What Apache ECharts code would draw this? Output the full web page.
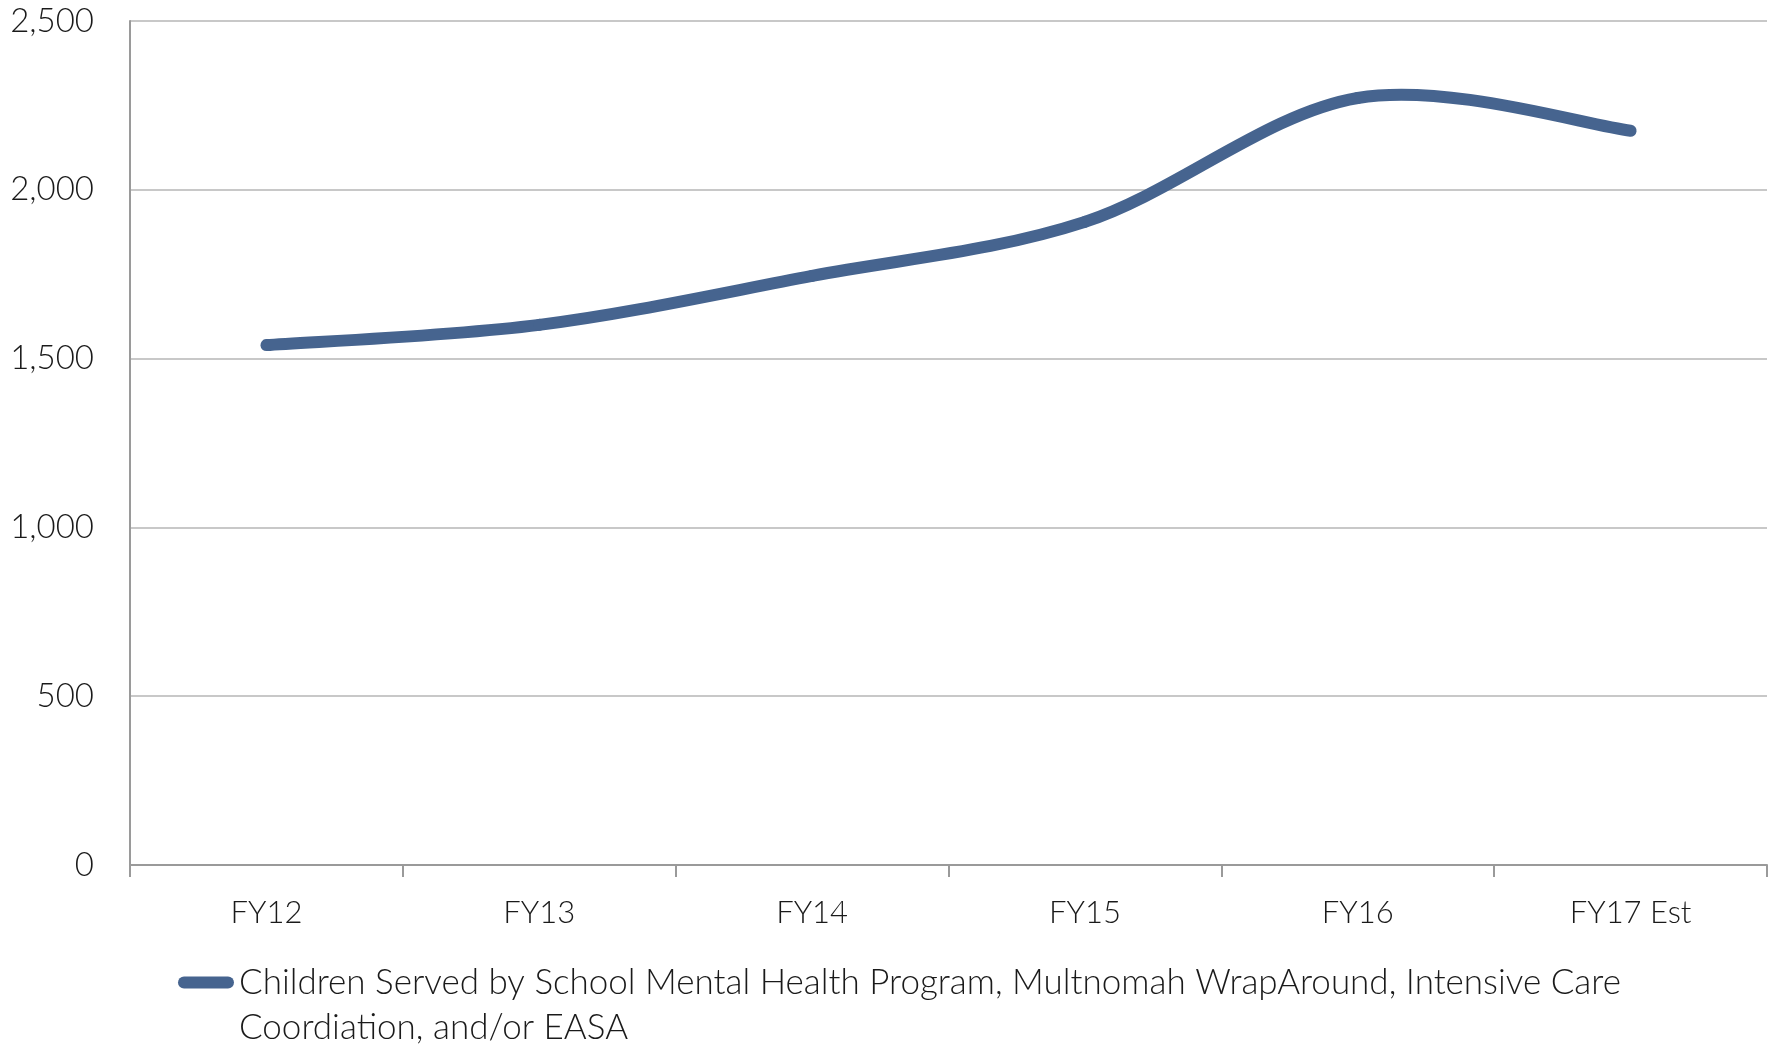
<!DOCTYPE html>
<html>
<head>
<meta charset="utf-8">
<style>
  html, body { margin: 0; padding: 0; background: #fff; }
  #chart { width: 1777px; height: 1046px; }
</style>
<script src="https://cdn.jsdelivr.net/npm/echarts@6/dist/echarts.min.js"></script>
</head>
<body>
<div id="chart"></div>
<script>
// Fiscal years on the category axis
const years = ['FY12', 'FY13', 'FY14', 'FY15', 'FY16', 'FY17 Est'];
// Number of children served each year
const childrenServed = [1540, 1600, 1745, 1905, 2272, 2175];
// Value-axis ticks
const yTicks = [0, 500, 1000, 1500, 2000, 2500];
const seriesName = 'Children Served by School Mental Health Program, Multnomah WrapAround, Intensive Care Coordiation, and/or EASA';
const legendLines = ['Children Served by School Mental Health Program, Multnomah WrapAround, Intensive Care', 'Coordiation, and/or EASA'];

const FONT = 'Lato';
const lineColor = '#46648f';
const LINE_WIDTH = 12;

// Smoothed line: cubic Bezier segments through each point (Catmull-Rom style tangents),
// positioned with the chart's own coordinate system.
function renderSmoothLine(params, api) {
  if (params.dataIndex !== 0) return null;
  const pts = childrenServed.map((v, i) => api.coord([i, v]));
  const n = pts.length;
  const P = i => pts[Math.max(0, Math.min(n - 1, i))];
  const children = [];
  for (let i = 0; i < n - 1; i++) {
    const p0 = P(i - 1), p1 = P(i), p2 = P(i + 1), p3 = P(i + 2);
    children.push({
      type: 'bezierCurve',
      shape: {
        x1: p1[0], y1: p1[1],
        cpx1: p1[0] + (p2[0] - p0[0]) / 6, cpy1: p1[1] + (p2[1] - p0[1]) / 6,
        cpx2: p2[0] - (p3[0] - p1[0]) / 6, cpy2: p2[1] - (p3[1] - p1[1]) / 6,
        x2: p2[0], y2: p2[1]
      },
      style: { stroke: lineColor, lineWidth: LINE_WIDTH, lineCap: 'round', lineJoin: 'round', fill: null }
    });
  }
  return { type: 'group', children };
}

const chart = echarts.init(document.getElementById('chart'));
chart.setOption({
  animation: false,
  backgroundColor: '#ffffff',
  textStyle: { fontFamily: FONT },
  grid: { left: 130, right: 10, top: 21, bottom: 181, containLabel: false },
  xAxis: {
    type: 'category',
    data: years,
    boundaryGap: true,
    axisLine: { lineStyle: { color: '#9a9a9a', width: 2 } },
    axisTick: { show: true, length: 12, lineStyle: { color: '#9a9a9a', width: 2 } },
    axisLabel: { color: '#1a1a1a', fontSize: 31, fontFamily: FONT, fontWeight: 300, margin: 32 }
  },
  yAxis: {
    type: 'value',
    min: yTicks[0],
    max: yTicks[yTicks.length - 1],
    interval: yTicks[1] - yTicks[0],
    axisLine: { show: true, lineStyle: { color: '#9a9a9a', width: 2 } },
    axisTick: { show: false },
    splitLine: { lineStyle: { color: '#c8c8c8', width: 2 } },
    axisLabel: {
      color: '#1a1a1a', fontSize: 33, fontFamily: FONT, fontWeight: 300, margin: 36,
      formatter: v => v.toLocaleString('en-US')
    }
  },
  legend: {
    left: 178,
    top: 915,
    padding: 0,
    icon: 'path://M6,0 L50,0 A6,6 0 0 1 50,12 L6,12 A6,6 0 0 1 6,0 Z',
    itemWidth: 56,
    itemHeight: 12,
    itemGap: 0,
    // leading blank line keeps the icon level with the first line of text
    formatter: () => '\n' + legendLines.join('\n'),
    textStyle: {
      color: '#1a1a1a', fontSize: 35, fontFamily: FONT, fontWeight: 300, lineHeight: 45
    },
    data: [{ name: seriesName, itemStyle: { color: lineColor } }]
  },
  series: [{
    name: seriesName,
    type: 'custom',
    coordinateSystem: 'cartesian2d',
    data: childrenServed.map((v, i) => [i, v]),
    encode: { x: 0, y: 1 },
    itemStyle: { color: lineColor },
    renderItem: renderSmoothLine
  }]
});
</script>
</body>
</html>
